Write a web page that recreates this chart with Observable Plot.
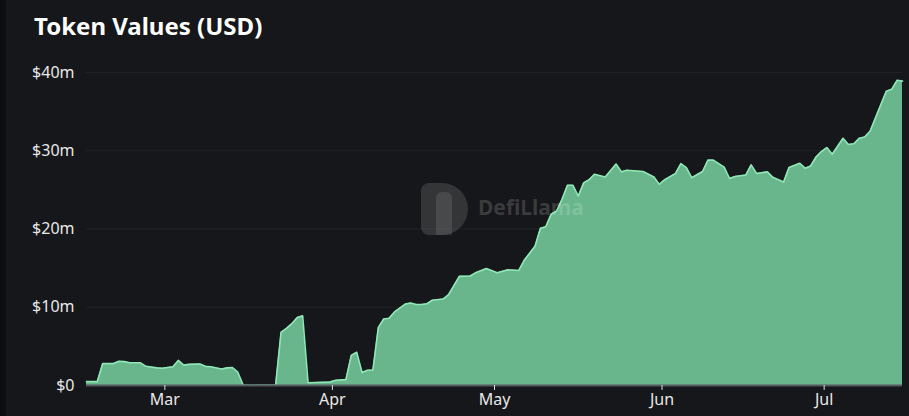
<!DOCTYPE html>
<html>
<head>
<meta charset="utf-8">
<script src="https://cdn.jsdelivr.net/npm/d3@7"></script>
<script src="https://cdn.jsdelivr.net/npm/@observablehq/plot@0.6"></script>
<style>
  html, body { margin: 0; padding: 0; background: #0d0e10; }
  #wrap { position: absolute; left: 6px; top: 0; width: 903px; height: 416px; background: #16171a; overflow: hidden; }
  #title { box-sizing: border-box; height: 52px; padding: 14px 0 0 28px; font-family: "Noto Sans", sans-serif; font-weight: 700; font-size: 24px; line-height: 1; color: #ffffff; }
  #chart { position: absolute; left: 0; top: 52px; }
  .wm { position: absolute; pointer-events: none; }
  #wmLogo { left: 415px; top: 183px; width: 47px; height: 52px; border-radius: 8px 26px 26px 8px; background: rgba(255,255,255,0.13); }
  #wmLlama { left: 430px; top: 192px; width: 16px; height: 43px; border-radius: 6px 6px 0 0; background: rgba(255,255,255,0.10); }
  #wmText { left: 472px; top: 197px; font-family: "Noto Sans", sans-serif; font-weight: 700; font-size: 21px; line-height: 1; color: rgba(255,255,255,0.16); }
</style>
</head>
<body>
<div id="wrap">
  <div id="title">Token Values (USD)</div>
  <div id="chart"></div>
  <div class="wm" id="wmLogo"></div>
  <div class="wm" id="wmLlama"></div>
  <div class="wm" id="wmText">DefiLlama</div>
</div>
<script>
const dates = [
  "2023-02-15","2023-02-17","2023-02-18","2023-02-20","2023-02-21","2023-02-22","2023-02-23","2023-02-25",
  "2023-02-26","2023-02-28","2023-03-01","2023-03-03","2023-03-04","2023-03-05","2023-03-06","2023-03-08",
  "2023-03-09","2023-03-10","2023-03-12","2023-03-13","2023-03-14","2023-03-15","2023-03-16","2023-03-22",
  "2023-03-23","2023-03-24","2023-03-25","2023-03-26","2023-03-27","2023-03-28","2023-04-01","2023-04-02",
  "2023-04-04","2023-04-05","2023-04-06","2023-04-07","2023-04-08","2023-04-09","2023-04-10","2023-04-11",
  "2023-04-12","2023-04-13","2023-04-15","2023-04-16","2023-04-17","2023-04-18","2023-04-19","2023-04-20",
  "2023-04-22","2023-04-23","2023-04-25","2023-04-27","2023-04-28","2023-04-30","2023-05-02","2023-05-04",
  "2023-05-06","2023-05-07","2023-05-08","2023-05-09","2023-05-10","2023-05-11","2023-05-12","2023-05-13",
  "2023-05-14","2023-05-15","2023-05-16","2023-05-17","2023-05-18","2023-05-19","2023-05-20","2023-05-22",
  "2023-05-24","2023-05-25","2023-05-26","2023-05-29","2023-05-31","2023-06-01","2023-06-02","2023-06-03",
  "2023-06-04","2023-06-05","2023-06-06","2023-06-07","2023-06-09","2023-06-10","2023-06-11","2023-06-13",
  "2023-06-14","2023-06-15","2023-06-17","2023-06-18","2023-06-19","2023-06-21","2023-06-22","2023-06-24",
  "2023-06-25","2023-06-27","2023-06-28","2023-06-29","2023-06-30","2023-07-01","2023-07-02","2023-07-03",
  "2023-07-05","2023-07-06","2023-07-07","2023-07-08","2023-07-09","2023-07-10","2023-07-11","2023-07-12",
  "2023-07-13","2023-07-14","2023-07-15","2023-07-16"
];
// token value in millions of USD
const values = [
  0.5, 0.5, 2.8, 2.8, 3.1, 3.05, 2.9, 2.9,
  2.45, 2.25, 2.2, 2.4, 3.2, 2.6, 2.7, 2.75,
  2.45, 2.4, 2.1, 2.25, 2.3, 1.7, 0.03, 0.05,
  6.8, 7.3, 7.9, 8.7, 8.9, 0.35, 0.45, 0.65,
  0.75, 3.85, 4.25, 1.65, 1.95, 1.98, 7.4, 8.5,
  8.6, 9.4, 10.4, 10.55, 10.35, 10.35, 10.45, 10.9,
  11.05, 11.6, 13.95, 14.0, 14.4, 14.95, 14.4, 14.8,
  14.7, 16.0, 16.9, 17.8, 20.1, 20.3, 21.9, 22.3,
  23.8, 25.6, 25.6, 24.2, 25.9, 26.3, 27.0, 26.65,
  28.3, 27.3, 27.5, 27.35, 26.65, 25.7, 26.3, 26.7,
  27.1, 28.35, 27.85, 26.55, 27.35, 28.8, 28.8, 27.9,
  26.45, 26.7, 26.9, 28.2, 27.1, 27.3, 26.6, 26.0,
  27.85, 28.4, 27.75, 28.05, 29.2, 29.9, 30.4, 29.55,
  31.6, 30.8, 30.9, 31.6, 31.75, 32.5, 34.2, 35.9,
  37.6, 37.85, 39.0, 38.9
];
const yTicks = [0, 10, 20, 30, 40];
const yTickLabels = ["$0", "$10m", "$20m", "$30m", "$40m"];
const xTicks = ["2023-03-01T12:00Z", "2023-04-01T12:00Z", "2023-05-01T12:00Z", "2023-06-01T12:00Z", "2023-07-01T12:00Z"].map(s => new Date(s));
const xTickLabels = ["Mar", "Apr", "May", "Jun", "Jul"];

const data = dates.map((d, i) => ({date: new Date(d + "T00:00:00Z"), value: values[i]}));

const chart = Plot.plot({
  width: 903,
  height: 364,
  marginLeft: 80,
  marginRight: 7,
  marginTop: 20,
  marginBottom: 31,
  style: {background: "transparent", fontFamily: "Noto Sans, sans-serif", fontSize: "16px", color: "#e8e8e8", overflow: "visible"},
  x: {type: "utc"},
  y: {domain: [0, 40]},
  marks: [
    Plot.gridY(yTicks.slice(1), {stroke: "#ffffff", strokeOpacity: 0.05, strokeWidth: 1}),
    Plot.areaY(data, {x: "date", y: "value", fill: "#69b68d"}),
    Plot.lineY(data, {x: "date", y: "value", stroke: "#8fe6b6", strokeWidth: 1.6}),
    Plot.ruleY([0], {stroke: "#55585d", strokeWidth: 2}),
    Plot.axisX({ticks: xTicks, tickFormat: d => xTickLabels[xTicks.findIndex(t => +t === +d)], tickSize: 5, tickPadding: 3, stroke: "#e0e0e0", fill: "#e8e8e8", label: null}),
    Plot.axisY({ticks: yTicks, tickFormat: d => yTickLabels[yTicks.indexOf(d)], tickSize: 0, tickPadding: 12, fill: "#e8e8e8", label: null})
  ]
});
document.getElementById("chart").appendChild(chart);
</script>
</body>
</html>
